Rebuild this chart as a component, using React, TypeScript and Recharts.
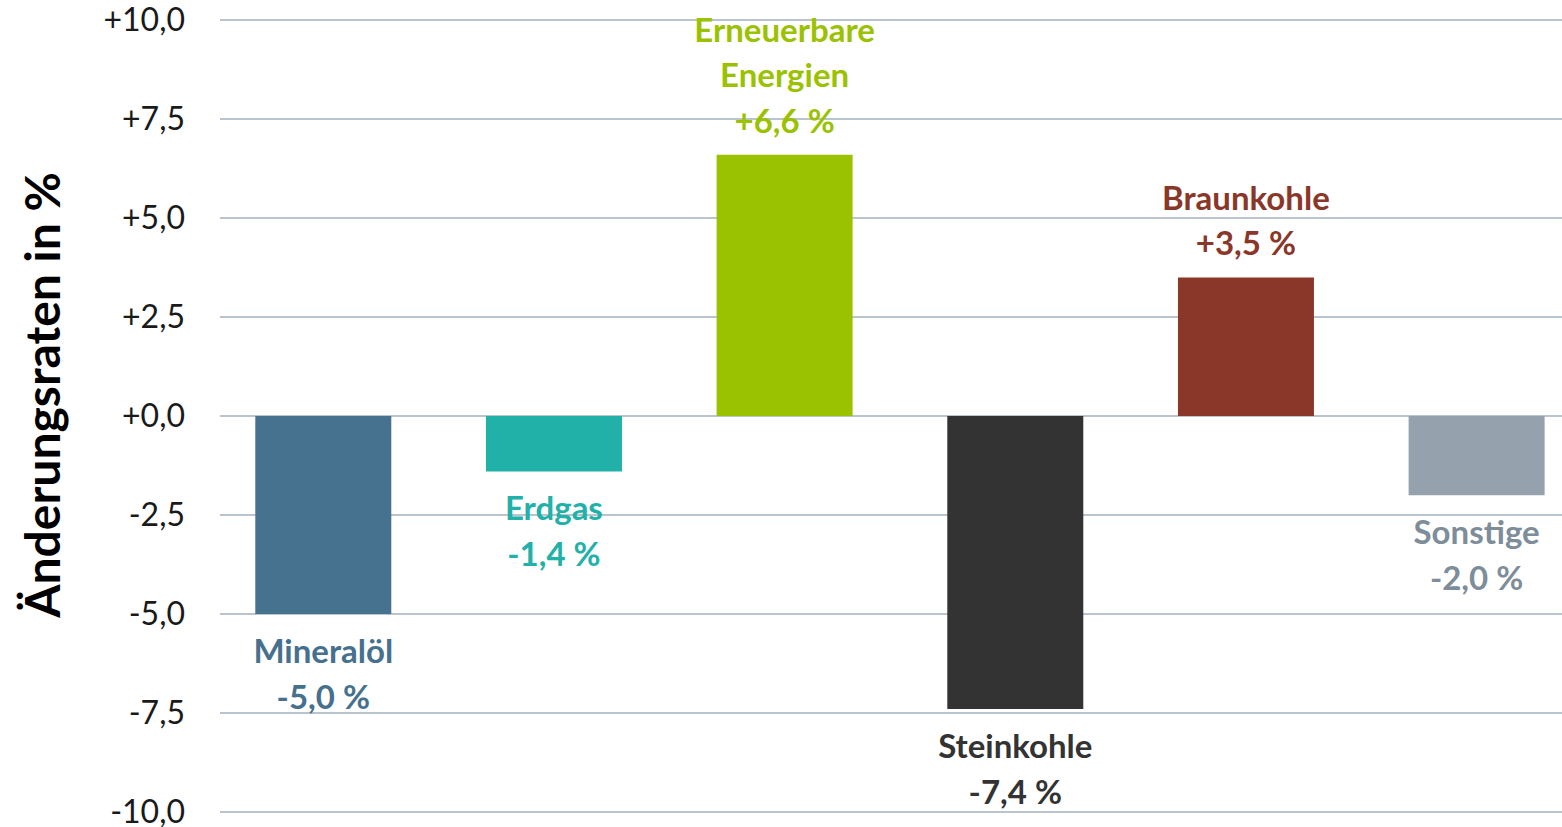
import { BarChart, Bar, XAxis, YAxis, CartesianGrid, Cell, LabelList } from "recharts"

const categories = ["Mineralöl", "Erdgas", "Erneuerbare\nEnergien", "Steinkohle", "Braunkohle", "Sonstige"]
const changes = [-5.0, -1.4, 6.6, -7.4, 3.5, -2.0]
const barColors = ["#46718F", "#21B1A9", "#9BC200", "#333333", "#8A3629", "#95A2AD"]
const textColors = ["#46708D", "#21B1A9", "#9BC200", "#333333", "#8A3629", "#7D8D9A"]
const yTicks = [-10, -7.5, -5, -2.5, 0, 2.5, 5, 7.5, 10]

const data = categories.map((name, i) => ({ name, value: changes[i] }))

const font = "Lato, 'Open Sans', sans-serif"

const fmt = (v: number) => (v >= 0 ? "+" : "-") + Math.abs(v).toFixed(1).replace(".", ",")

function BarLabel(props: any) {
  const { x, y, width, height, value, index } = props
  const lines = [...categories[index].split("\n"), fmt(value) + " %"]
  const cx = x + width / 2
  const lineH = 45.5
  const color = textColors[index]
  let ys: number[]
  if (value >= 0) {
    // stacked above the top of the bar
    const top = Math.min(y, y + height)
    ys = lines.map((_, i) => top - 35 - (lines.length - 1 - i) * lineH)
  } else {
    const bottom = Math.max(y, y + height)
    ys = lines.map((_, i) => bottom + 36 + i * lineH)
  }
  return (
    <g>
      {lines.map((t, i) => (
        <text
          key={i}
          x={cx}
          y={ys[i]}
          textAnchor="middle"
          dominantBaseline="central"
          fill={color}
          fontFamily={font}
          fontWeight={700}
          fontSize={33}
        >
          {t}
        </text>
      ))}
    </g>
  )
}

export default function App() {
  return (
    <div style={{ position: "absolute", left: 0, top: 0, width: 1562, height: 827, overflow: "hidden", background: "#fff" }}>
      <BarChart
        width={1592}
        height={827}
        data={data}
        margin={{ top: 20, right: 0, bottom: 15, left: 0 }}
        barCategoryGap="20.5%"
      >
        <CartesianGrid vertical={false} stroke="#BAC4CE" strokeWidth={2} />
        <XAxis dataKey="name" hide padding={{ left: -12, right: 0 }} />
        <YAxis
          width={220}
          domain={[-10, 10]}
          ticks={yTicks}
          interval={0}
          tickFormatter={fmt}
          axisLine={false}
          tickLine={false}
          tickMargin={29}
          tick={{ fill: "#1a1a1a", fontSize: 32, fontFamily: font }}
          label={{
            content: () => (
              <text
                x={41}
                y={395}
                transform="rotate(-90, 41, 395)"
                textAnchor="middle"
                dominantBaseline="central"
                fontFamily={font}
                fontWeight={700}
                fontSize={48}
                fill="#000"
              >
                Änderungsraten in %
              </text>
            ),
          }}
        />
        <Bar dataKey="value" isAnimationActive={false}>
          {data.map((_, i) => (
            <Cell key={i} fill={barColors[i]} />
          ))}
          <LabelList dataKey="value" content={<BarLabel />} />
        </Bar>
      </BarChart>
    </div>
  )
}
